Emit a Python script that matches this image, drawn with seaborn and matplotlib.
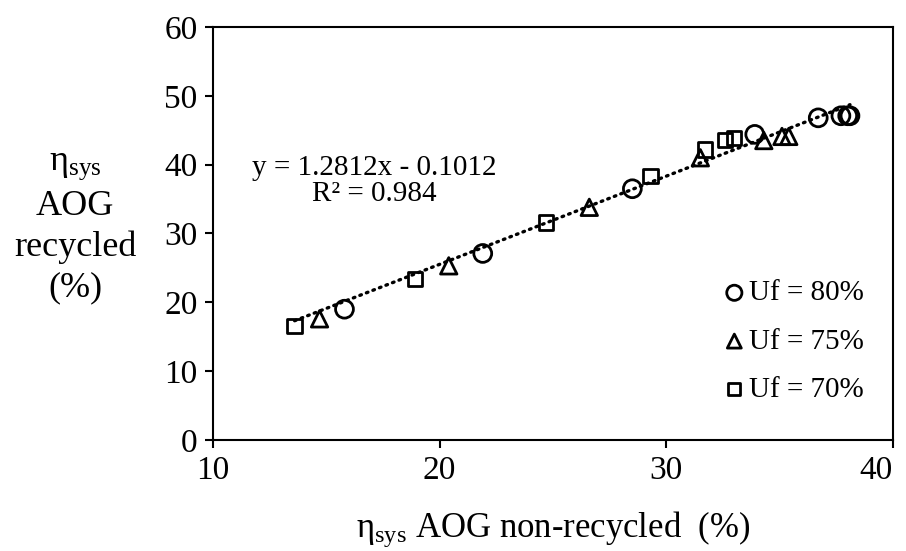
import numpy as np
import pandas as pd
import matplotlib
matplotlib.use("Agg")
import matplotlib.pyplot as plt
import seaborn as sns

# ---- data ----
uf80_x = [15.8, 21.9, 28.5, 33.9, 36.7, 37.7, 38.0, 38.1]
uf80_y = [19.0, 27.1, 36.5, 44.4, 46.8, 47.1, 47.1, 47.1]
uf75_x = [14.7, 20.4, 26.6, 31.5, 34.3, 35.1, 35.4]
uf75_y = [17.6, 25.3, 33.8, 41.0, 43.5, 44.1, 44.1]
uf70_x = [13.6, 18.9, 24.7, 29.3, 31.7, 32.6, 33.0]
uf70_y = [16.6, 23.4, 31.6, 38.4, 42.2, 43.6, 43.9]
series_labels = ["Uf = 80%", "Uf = 75%", "Uf = 70%"]
trend_slope = 1.2812
trend_intercept = -0.1012
trend_text = "y = 1.2812x - 0.1012\nR² = 0.984"
x_ticks = [10, 20, 30, 40]
y_ticks = [0, 10, 20, 30, 40, 50, 60]

sns.set_theme(style="white")
plt.rcParams["font.family"] = ["Liberation Serif", "DejaVu Serif"]
plt.rcParams["mathtext.fontset"] = "custom"
plt.rcParams["mathtext.rm"] = "Liberation Serif"
plt.rcParams["mathtext.it"] = "Liberation Serif:italic"
for k in ["text.color", "axes.labelcolor", "xtick.color", "ytick.color", "axes.edgecolor"]:
    plt.rcParams[k] = "black"

fig = plt.figure(figsize=(9.06, 5.51), dpi=100)
ax = fig.add_axes([0.2351, 0.2015, 0.7506, 0.7495])

# trend line
all_x = np.array(uf80_x + uf75_x + uf70_x)
tx = np.array([all_x.min(), all_x.max()])
ty = trend_slope * tx + trend_intercept
sns.lineplot(x=tx, y=ty, ax=ax, color="black", linewidth=2.4,
             linestyle=(0, (0.5, 1.6)), dash_capstyle="round", zorder=1)

groups = [(uf80_x, uf80_y, "o", 165), (uf75_x, uf75_y, "^", 140), (uf70_x, uf70_y, "s", 105)]
for (gx, gy, mk, sz), lab in zip(groups, series_labels):
    sns.scatterplot(x=gx, y=gy, marker=mk, s=sz, facecolors="none",
                    edgecolor="black", linewidth=2.0, ax=ax, label=lab, zorder=3)

ax.set_xlim(10, 40)
ax.set_ylim(0, 60)
ax.set_xticks(x_ticks)
ax.set_yticks(y_ticks)
ax.tick_params(axis="both", which="major", direction="out", length=6, width=1.5,
               labelsize=24, colors="black", pad=5, bottom=True, left=True)
xt = ax.get_xticklabels()
xt[-1].set_horizontalalignment("right")
for sp in ax.spines.values():
    sp.set_color("black")
    sp.set_linewidth(1.5)
    sp.set_visible(True)
ax.grid(False)

ax.text(17.1, 37.6, trend_text, fontsize=21, ha="center", va="center",
        linespacing=1.0)

ax.set_xlabel("η$_{\\mathrm{sys}}$ AOG non-recycled  (%)", fontsize=25, labelpad=17)
ax.set_ylabel("")
fig.text(0.083, 0.588, "η$_{\\mathrm{sys}}$\nAOG\nrecycled\n(%)", fontsize=26,
         ha="center", va="center", linespacing=1.3)

leg = ax.legend(loc="lower right", frameon=False, fontsize=21,
                handletextpad=0.0, handlelength=1.0, labelspacing=0.75,
                borderaxespad=0.3, markerscale=0.85, bbox_to_anchor=(0.987, 0.04))
for h in leg.legend_handles:
    h.set_facecolor("none")
    h.set_edgecolor("black")

fig.savefig("out.png", dpi=100, facecolor="white")
